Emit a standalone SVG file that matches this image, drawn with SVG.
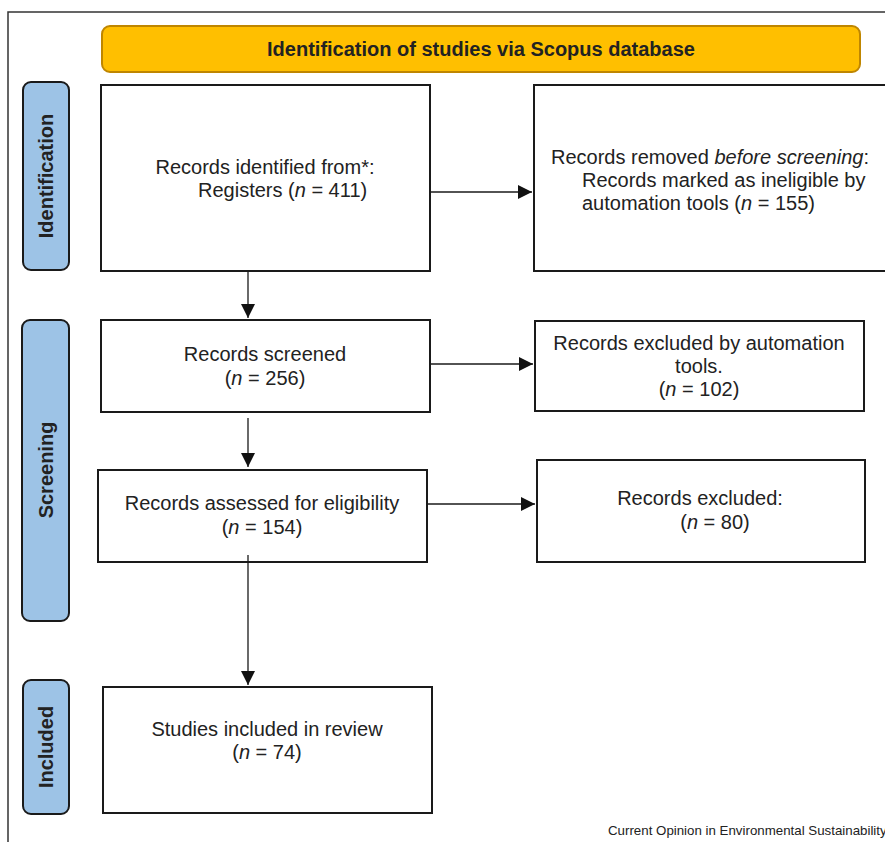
<svg xmlns="http://www.w3.org/2000/svg" width="885" height="842" viewBox="0 0 885 842">
<defs>
<style>
.frame{fill:none;stroke:#333;stroke-width:1.5}
.box{fill:#fff;stroke:#1a1a1a;stroke-width:2}
.side{fill:#9DC3E6;stroke:#1a1a1a;stroke-width:2}
.hdr{fill:#FFBF00;stroke:#BF8600;stroke-width:2}
.t{font-family:"Liberation Sans",Arial,sans-serif;font-size:20px;fill:#222}
.b{font-family:"Liberation Sans",Arial,sans-serif;font-size:20px;font-weight:bold;fill:#222}
.c{text-anchor:middle}
.con{stroke:#1a1a1a;stroke-width:1.3;fill:none;marker-end:url(#ah)}
.foot{font-family:"Liberation Sans",Arial,sans-serif;font-size:13.3px;fill:#222}
</style>
<marker id="ah" viewBox="0 0 10 10" refX="10" refY="5" markerWidth="14" markerHeight="14" markerUnits="userSpaceOnUse" orient="auto">
<path d="M0,0 L10,5 L0,10 z" fill="#111"/>
</marker>
</defs>
<rect width="885" height="842" fill="#fff"/>
<path class="frame" d="M8,842 V12 H885"/>

<g id="header">
<rect class="hdr" x="102" y="26" width="758" height="46" rx="8"/>
<text class="b c" x="481" y="56">Identification of studies via Scopus database</text>
</g>

<g id="side-identification">
<rect class="side" x="23" y="82" width="46" height="188" rx="8"/>
<text class="b c" transform="translate(53,176) rotate(-90)">Identification</text>
</g>
<g id="side-screening">
<rect class="side" x="22" y="320" width="47" height="301" rx="8"/>
<text class="b c" transform="translate(53,470) rotate(-90)">Screening</text>
</g>
<g id="side-included">
<rect class="side" x="23" y="680" width="46" height="134" rx="8"/>
<text class="b c" transform="translate(53,747) rotate(-90)">Included</text>
</g>

<g id="identified">
<rect class="box" x="101" y="85" width="329" height="186"/>
<text class="t c" x="265" y="174">Records identified from*:</text>
<text class="t" x="198" y="197">Registers (<tspan font-style="italic">n</tspan> = 411)</text>
</g>

<g id="removed">
<rect class="box" x="534" y="85" width="360" height="186"/>
<text class="t" x="551" y="164">Records removed <tspan font-style="italic">before screening</tspan>:</text>
<text class="t" x="582" y="187">Records marked as ineligible by</text>
<text class="t" x="582" y="210">automation tools (<tspan font-style="italic">n</tspan> = 155)</text>
</g>

<g id="screened">
<rect class="box" x="101" y="320" width="329" height="92"/>
<text class="t c" x="265" y="361">Records screened</text>
<text class="t c" x="265" y="385">(<tspan font-style="italic">n</tspan> = 256)</text>
</g>

<g id="excluded-auto">
<rect class="box" x="535" y="321" width="329" height="90"/>
<text class="t c" x="699" y="350">Records excluded by automation</text>
<text class="t c" x="699" y="373">tools.</text>
<text class="t c" x="699" y="396">(<tspan font-style="italic">n</tspan> = 102)</text>
</g>

<g id="assessed">
<rect class="box" x="98" y="470" width="329" height="92"/>
<text class="t c" x="262" y="510">Records assessed for eligibility</text>
<text class="t c" x="262" y="534">(<tspan font-style="italic">n</tspan> = 154)</text>
</g>

<g id="excluded">
<rect class="box" x="537" y="460" width="328" height="102"/>
<text class="t c" x="700" y="505">Records excluded:</text>
<text class="t c" x="715" y="529">(<tspan font-style="italic">n</tspan> = 80)</text>
</g>

<g id="included">
<rect class="box" x="103" y="687" width="329" height="126"/>
<text class="t c" x="267" y="736">Studies included in review</text>
<text class="t c" x="267" y="759">(<tspan font-style="italic">n</tspan> = 74)</text>
</g>

<g id="connectors">
<line class="con" x1="431" y1="192" x2="532" y2="192"/>
<line class="con" x1="248" y1="272" x2="248" y2="318"/>
<line class="con" x1="431" y1="364" x2="533" y2="364"/>
<line class="con" x1="248" y1="418" x2="248" y2="467"/>
<line class="con" x1="428" y1="504" x2="535" y2="504"/>
<line class="con" x1="248" y1="555" x2="248" y2="685"/>
</g>

<text class="foot" x="608" y="835">Current Opinion in Environmental Sustainability</text>
</svg>
